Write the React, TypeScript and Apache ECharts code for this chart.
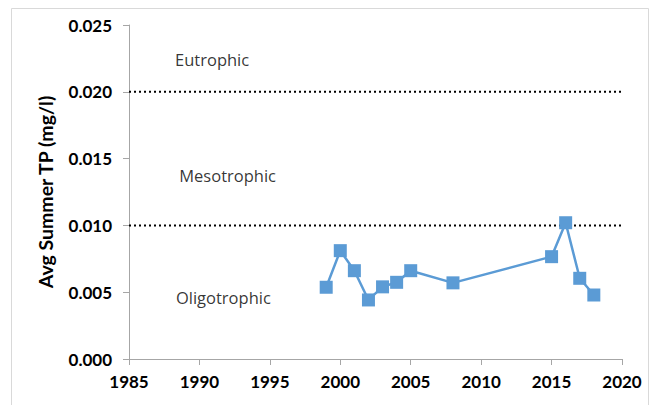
import React, { useEffect, useRef } from "react";
import * as echarts from "echarts";

const years = [1999, 2000, 2001, 2002, 2003, 2004, 2005, 2008, 2015, 2016, 2017, 2018];
const tpValues = [0.00537, 0.00811, 0.00661, 0.00442, 0.00540, 0.00574, 0.00661, 0.00570, 0.00766, 0.0102, 0.00604, 0.00479];
const thresholds = [0.02, 0.01];
const zoneLabels = [
  { name: "Eutrophic", x: 1990.9, y: 0.0224 },
  { name: "Mesotrophic", x: 1992.0, y: 0.01377 },
  { name: "Oligotrophic", x: 1991.7, y: 0.00464 },
];

const FONT = "Lato, 'Open Sans', sans-serif";
const FONT_REG = "'Open Sans', Lato, sans-serif";

export default function App() {
  const ref = useRef<HTMLDivElement>(null);
  useEffect(() => {
    if (!ref.current) return;
    const chart = echarts.init(ref.current, undefined, { renderer: "svg" });
    const axisColor = "#A6A6A6";
    chart.setOption({
      animation: false,
      backgroundColor: "#ffffff",
      grid: { left: 129, right: 33, top: 25, bottom: 46 },
      graphic: [
        {
          type: "rect",
          left: 9,
          top: 6,
          shape: { x: 0, y: 0, width: 637, height: 410 },
          style: { fill: "none", stroke: "#D9D9D9", lineWidth: 1 },
          silent: true,
        },
      ],
      xAxis: {
        type: "value",
        min: 1985,
        max: 2020,
        interval: 5,
        splitLine: { show: false },
        axisLine: { show: true, lineStyle: { color: axisColor, width: 1 } },
        axisTick: { show: true, length: 6, lineStyle: { color: axisColor } },
        axisLabel: {
          color: "#000",
          fontFamily: FONT,
          fontWeight: "bold",
          fontSize: 17,
          margin: 14,
          formatter: (v: number) => String(v),
        },
      },
      yAxis: {
        type: "value",
        min: 0,
        max: 0.025,
        interval: 0.005,
        splitLine: { show: false },
        axisLine: { show: true, lineStyle: { color: axisColor, width: 1 } },
        axisTick: { show: true, length: 6, lineStyle: { color: axisColor } },
        axisLabel: {
          color: "#000",
          fontFamily: FONT,
          fontWeight: "bold",
          fontSize: 17,
          margin: 17,
          formatter: (v: number) => v.toFixed(3),
        },
        name: "Avg Summer TP (mg/l)",
        nameLocation: "middle",
        nameGap: 74,
        nameTextStyle: {
          color: "#000",
          fontFamily: FONT,
          fontWeight: "bold",
          fontSize: 19.5,
        },
      },
      series: [
        ...thresholds.map((t) => ({
          type: "line",
          data: [
            [1985, t],
            [2020, t],
          ],
          symbol: "none",
          lineStyle: { color: "#000", width: 2, type: [2, 3] },
          silent: true,
          z: 1,
        })),
        {
          type: "line",
          data: years.map((y, i) => [y, tpValues[i]]),
          symbol: "rect",
          symbolSize: 13,
          itemStyle: { color: "#5B9BD5" },
          lineStyle: { color: "#5B9BD5", width: 2.5 },
          z: 3,
        },
        {
          type: "scatter",
          data: zoneLabels.map((z) => ({ value: [z.x, z.y], name: z.name })),
          symbolSize: 0,
          silent: true,
          label: {
            show: true,
            position: "inside",
            formatter: (p: any) => p.name,
            color: "#000",
            fontFamily: FONT_REG,
            fontSize: 16.5,
          },
        },
      ],
    });
    return () => chart.dispose();
  }, []);
  return (
    <div
      ref={ref}
      style={{ position: "fixed", left: 0, top: 0, width: 655, height: 405 }}
    />
  );
}
